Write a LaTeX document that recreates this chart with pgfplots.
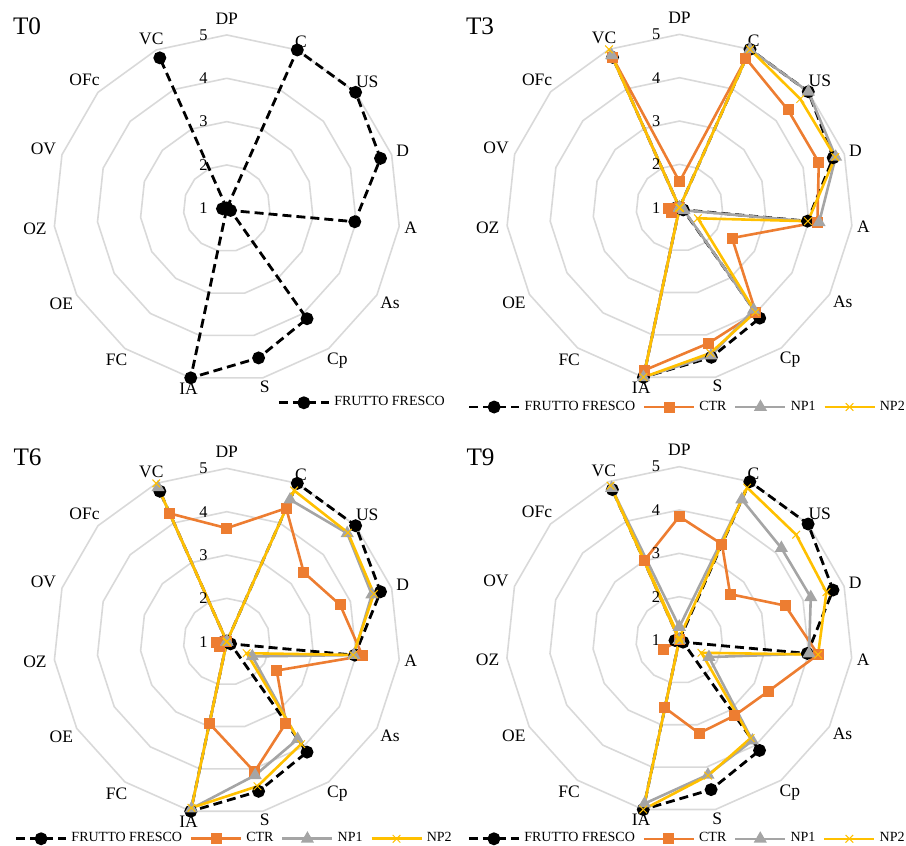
\documentclass[border=0pt]{standalone}
\usepackage{fontspec}
\setmainfont{Liberation Serif}
\usepackage{pgfplots}
\pgfplotsset{compat=1.18}
\usepackage{pgfplotstable}
\usepgfplotslibrary{polar}

\definecolor{ctrc}{HTML}{ED7D31}
\definecolor{npone}{HTML}{A5A5A5}
\definecolor{nptwo}{HTML}{FFC000}
\definecolor{gridgray}{HTML}{D9D9D9}

% Sensory attributes, one spoke each, clockwise from the top (DP).
% ang = polar angle in degrees (counter-clockwise from east); last row closes the loop.
\pgfplotstableread{
cat ang FF
DP  90  1.00
C   66  5.00
US  42  5.00
D   18  4.73
A   354 3.97
As  330 1.10
Cp  306 4.15
S   282 4.53
IA  258 5.00
FC  234 1.00
OE  210 1.00
OZ  186 1.10
OV  162 1.00
OFc 138 1.00
VC  114 4.80
DP  90  1.00
}\tzero

\pgfplotstableread{
cat ang FF   CTR  NPa  NPb
DP  90  1.00 1.60 1.00 1.00
C   66  5.00 4.77 5.00 5.00
US  42  5.00 4.37 5.00 4.75
D   18  4.73 4.38 4.79 4.78
A   354 3.97 4.20 4.24 3.98
As  330 1.10 2.40 1.12 1.49
Cp  306 4.15 4.00 3.91 3.98
S   282 4.53 4.20 4.49 4.43
IA  258 5.00 4.83 5.00 5.00
FC  234 1.00 1.00 1.00 1.00
OE  210 1.00 1.20 1.00 1.00
OZ  186 1.10 1.25 1.00 1.00
OV  162 1.00 1.00 1.00 1.00
OFc 138 1.00 1.00 1.00 1.00
VC  114 4.80 4.80 4.85 5.00
DP  90  1.00 1.60 1.00 1.00
}\tthree

\pgfplotstableread{
cat ang FF   CTR  NPa  NPb
DP  90  1.00 3.62 1.00 1.00
C   66  5.00 4.37 4.59 4.82
US  42  5.00 3.39 4.74 4.76
D   18  4.73 3.75 4.52 4.57
A   354 3.97 4.15 3.95 3.93
As  330 1.10 2.33 1.68 1.53
Cp  306 4.15 3.32 3.78 3.92
S   282 4.53 4.07 4.15 4.41
IA  258 5.00 2.93 4.94 4.92
FC  234 1.00 1.00 1.00 1.00
OE  210 1.00 1.20 1.00 1.00
OZ  186 1.10 1.25 1.00 1.00
OV  162 1.00 1.00 1.00 1.00
OFc 138 1.00 1.00 1.00 1.00
VC  114 4.80 4.24 4.90 5.00
DP  90  1.00 3.62 1.00 1.00
}\tsix

\pgfplotstableread{
cat ang FF   CTR  NPa  NPb
DP  90  1.00 3.85 1.30 1.05
C   66  5.00 3.42 4.55 4.85
US  42  5.00 2.58 4.17 4.63
D   18  4.73 3.57 4.19 4.57
A   354 3.97 4.22 4.01 4.22
As  330 1.10 3.37 1.79 1.59
Cp  306 4.15 3.16 3.87 3.80
S   282 4.53 3.20 4.18 4.20
IA  258 5.00 2.60 4.86 5.00
FC  234 1.00 1.00 1.00 1.00
OE  210 1.00 1.42 1.00 1.00
OZ  186 1.10 1.00 1.00 1.00
OV  162 1.00 1.00 1.00 1.00
OFc 138 1.00 1.00 1.00 1.00
VC  114 4.80 3.00 4.84 4.90
DP  90  1.00 3.85 1.30 1.05
}\tnine

\pgfplotsset{
  radar/.style={
    scale only axis, width=173.33pt, height=173.33pt,
    xmin=0, xmax=360, ymin=0, ymax=4,
    hide axis, clip=false,
    legend columns=4,
    legend cell align=left,
    legend style={draw=none, fill=none, inner sep=0pt,
      font=\fontsize{7}{8}\selectfont,
      /tikz/every even column/.append style={column sep=1.8pt}},
    legend image code/.code={%
      \draw[mark repeat=2,mark phase=2,##1] plot coordinates {(0pt,0pt) (12.5pt,0pt) (25pt,0pt)};},
  },
}
\tikzset{
  gridline/.style={gridgray, line width=0.8pt},
  ffs/.style={black, line width=1.4pt, dash pattern=on 4.5pt off 2.5pt,
    mark=*, mark size=2.5pt, mark options={solid}},
  ctrs/.style={ctrc, line width=1.3pt, mark=square*, mark size=2.1pt, mark options={solid}},
  np1s/.style={npone, line width=1.3pt, mark=triangle*, mark size=2.5pt, mark options={solid}},
  np2s/.style={nptwo, line width=1.3pt, mark=x, mark size=2.7pt, mark options={solid, line width=0.5pt}},
  catlab/.style={font=\fontsize{8.75}{10}\selectfont, inner sep=0pt},
  ringlab/.style={font=\fontsize{8.2}{10}\selectfont, inner sep=0pt},
}

% polygonal grid rings at scores 2, 3, 4, 5 (radius = score - 1)
\newcommand{\rings}{%
  \addplot[gridline, forget plot] coordinates {(90,1) (66,1) (42,1) (18,1) (354,1) (330,1) (306,1) (282,1) (258,1) (234,1) (210,1) (186,1) (162,1) (138,1) (114,1) (90,1)};
  \addplot[gridline, forget plot] coordinates {(90,2) (66,2) (42,2) (18,2) (354,2) (330,2) (306,2) (282,2) (258,2) (234,2) (210,2) (186,2) (162,2) (138,2) (114,2) (90,2)};
  \addplot[gridline, forget plot] coordinates {(90,3) (66,3) (42,3) (18,3) (354,3) (330,3) (306,3) (282,3) (258,3) (234,3) (210,3) (186,3) (162,3) (138,3) (114,3) (90,3)};
  \addplot[gridline, forget plot] coordinates {(90,4) (66,4) (42,4) (18,4) (354,4) (330,4) (306,4) (282,4) (258,4) (234,4) (210,4) (186,4) (162,4) (138,4) (114,4) (90,4)};
}

\newcommand{\labels}{%
  \node[ringlab] at (axis cs:90,0) [xshift=-11.7pt] {1};
  \node[ringlab] at (axis cs:90,1) [xshift=-11.7pt] {2};
  \node[ringlab] at (axis cs:90,2) [xshift=-11.7pt] {3};
  \node[ringlab] at (axis cs:90,3) [xshift=-11.7pt] {4};
  \node[ringlab] at (axis cs:90,4) [xshift=-11.7pt] {5};
  \node[catlab] at (axis cs:90,4.38)  {DP};
  \node[catlab] at (axis cs:66,4.21)  {C};
  \node[catlab] at (axis cs:42,4.36)  {US};
  \node[catlab] at (axis cs:18,4.27)  {D};
  \node[catlab] at (axis cs:354,4.27) {A};
  \node[catlab] at (axis cs:330,4.35) {As};
  \node[catlab] at (axis cs:306,4.34) {Cp};
  \node[catlab] at (axis cs:282,4.21) {S};
  \node[catlab] at (axis cs:258,4.25) {IA};
  \node[catlab] at (axis cs:234,4.33) {FC};
  \node[catlab] at (axis cs:210,4.41) {OE};
  \node[catlab] at (axis cs:186,4.45) {OZ};
  \node[catlab] at (axis cs:162,4.45) {OV};
  \node[catlab] at (axis cs:138,4.42) {OFc};
  \node[catlab] at (axis cs:114,4.28) {VC};
}

% fresh-fruit reference: the OFc-VC-DP leg runs out and back along one spoke,
% so it gets its own path with a dash phase that lays both passes on the same dashes
\newcommand{\ffplot}[1]{%
  \addplot[ffs, skip coords between index={14}{16}] table[x=ang, y expr=\thisrow{FF}-1] {#1};
  \addlegendentry{FRUTTO FRESCO}
  \addplot[ffs, forget plot, dash phase=0.417pt, skip coords between index={0}{13}]
    table[x=ang, y expr=\thisrow{FF}-1] {#1};
}

\newcommand{\fourseries}[1]{%
  \ffplot{#1}
  \addplot[ctrs] table[x=ang, y expr=\thisrow{CTR}-1] {#1}; \addlegendentry{CTR}
  \addplot[np1s] table[x=ang, y expr=\thisrow{NPa}-1] {#1}; \addlegendentry{NP1}
  \addplot[np2s] table[x=ang, y expr=\thisrow{NPb}-1] {#1}; \addlegendentry{NP2}
}

\begin{document}
\begin{tikzpicture}
\path[use as bounding box] (0pt,0pt) rectangle (453pt,423pt);

% T0
\begin{polaraxis}[radar, at={(113.4pt,318.85pt)}, anchor=origin,
    legend style={at={(0.645,-0.061)}, anchor=west}]
  \rings
  \ffplot{\tzero}
  \labels
\end{polaraxis}

% T3
\begin{polaraxis}[radar, at={(339.75pt,319.15pt)}, anchor=origin,
    legend style={at={(-0.112,-0.075)}, anchor=west}]
  \rings
  \fourseries{\tthree}
  \labels
\end{polaraxis}

% T6
\begin{polaraxis}[radar, at={(113.4pt,102.15pt)}, anchor=origin,
    legend style={at={(-0.113,-0.0685)}, anchor=west}]
  \rings
  \fourseries{\tsix}
  \labels
\end{polaraxis}

% T9
\begin{polaraxis}[radar, at={(339.65pt,103pt)}, anchor=origin,
    legend style={at={(-0.112,-0.0735)}, anchor=west}]
  \rings
  \fourseries{\tnine}
  \labels
\end{polaraxis}

% panel titles
\node[anchor=base west, inner sep=0pt, font=\fontsize{12.6}{14}\selectfont] at (6.3pt,405.5pt) {T0};
\node[anchor=base west, inner sep=0pt, font=\fontsize{12.6}{14}\selectfont] at (232.8pt,405.5pt) {T3};
\node[anchor=base west, inner sep=0pt, font=\fontsize{12.6}{14}\selectfont] at (6.6pt,190pt) {T6};
\node[anchor=base west, inner sep=0pt, font=\fontsize{12.6}{14}\selectfont] at (233.1pt,190pt) {T9};
\end{tikzpicture}
\end{document}
